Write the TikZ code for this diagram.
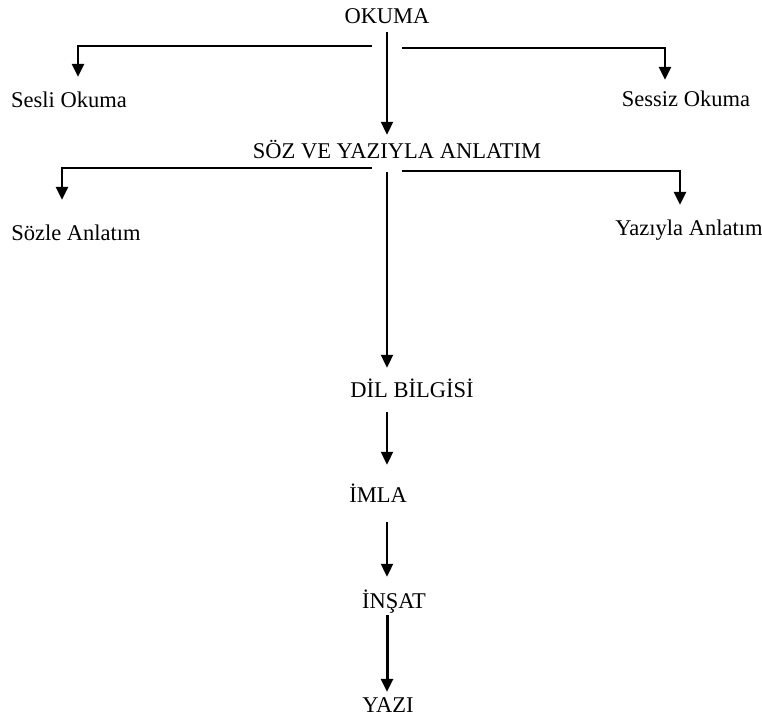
\documentclass[tikz,border=0pt]{standalone}
\usepackage{fontspec}
\setmainfont{Liberation Serif}
\usepackage{tikz}
\usetikzlibrary{arrows.meta,math}

\tikzset{
  lbl/.style={inner sep=0pt, text height=15pt, text depth=5pt, font=\fontsize{22.5}{25}\selectfont},
  arr/.style={line width=2pt, -{Triangle[length=13pt,width=12pt]}},
  branch/.style={arr, line width=2.8pt},
}

\begin{document}
\begin{tikzpicture}[x=1pt,y=-1pt]
  \tikzmath{\mx = 387;}
  \useasboundingbox (0,0) rectangle (762,716);

  % levels
  \node[lbl] (okuma) at (\mx,18) {OKUMA};
  \node[lbl] (sesli) at (69,102) {Sesli Okuma};
  \node[lbl] (sessiz) at (686,101) {Sessiz Okuma};
  \node[lbl] (soz) at (397,153) {SÖZ VE YAZIYLA ANLATIM};
  \node[lbl] (sozle) at (76,235) {Sözle Anlatım};
  \node[lbl] (yaziyla) at (689,230) {Yazıyla Anlatım};
  \node[lbl] (dil) at (412,392) {DİL BİLGİSİ};
  \node[lbl] (imla) at (378,497) {İMLA};
  \node[lbl] (insat) at (394,603) {İNŞAT};
  \node[lbl] (yazi) at (388,707) {YAZI};

  \coordinate (okL) at (372,46);
  \coordinate (okR) at (402,48);
  \coordinate (sozL) at (372,168);
  \coordinate (sozR) at (402,171);

  % main line
  \draw[arr, shorten <=4pt, shorten >=8pt] (okuma.south) -- (soz.north -| okuma.south);
  \draw[arr, shorten <=9pt, shorten >=14pt] (soz.south -| okuma.south) -- (dil.north -| okuma.south);
  \draw[arr, shorten <=10pt, shorten >=22pt] (dil.south -| okuma.south) -- (imla.north -| okuma.south);
  \draw[arr, shorten <=15pt, shorten >=16pt] (imla.south -| okuma.south) -- (insat.north -| okuma.south);
  \draw[arr, line width=3pt, shorten <=2pt, shorten >=5pt] (insat.south -| okuma.south) -- (yazi.north -| okuma.south);

  % side branches
  \draw[branch, shorten >=15pt] (okL) -| ([xshift=9pt]sesli.north);
  \draw[branch, shorten >=11pt] (okR) -| ([xshift=-21pt]sessiz.north);
  \draw[branch, shorten >=25pt] (sozL) -| ([xshift=-14pt]sozle.north);
  \draw[branch, shorten >=15pt] (sozR) -| ([xshift=-9pt]yaziyla.north);
\end{tikzpicture}
\end{document}
